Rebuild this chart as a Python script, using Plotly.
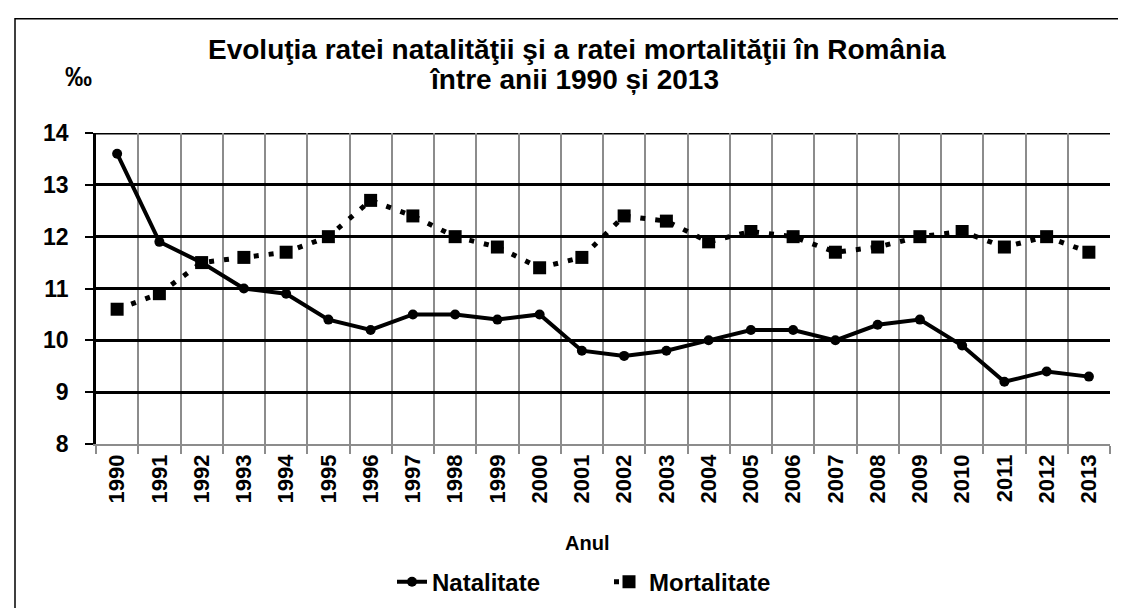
import plotly.graph_objects as go

years = [str(y) for y in range(1990, 2014)]
natalitate = [13.6, 11.9, 11.5, 11.0, 10.9, 10.4, 10.2, 10.5, 10.5, 10.4, 10.5, 9.8,
              9.7, 9.8, 10.0, 10.2, 10.2, 10.0, 10.3, 10.4, 9.9, 9.2, 9.4, 9.3]
mortalitate = [10.6, 10.9, 11.5, 11.6, 11.7, 12.0, 12.7, 12.4, 12.0, 11.8, 11.4, 11.6,
               12.4, 12.3, 11.9, 12.1, 12.0, 11.7, 11.8, 12.0, 12.1, 11.8, 12.0, 11.7]
y_ticks = [8, 9, 10, 11, 12, 13, 14]
title_line1 = "Evoluţia ratei natalităţii şi a ratei mortalităţii în România"
title_line2 = "între anii 1990 și 2013"
x_title = "Anul"
y_unit = "‰"

FONT = "Liberation Sans, Arial, sans-serif"
W, H = 1126, 608
L, R, T, B = 88, 24, 125, 170

fig = go.Figure()
fig.add_trace(go.Scatter(
    x=years, y=natalitate, name="Natalitate", mode="lines+markers",
    line=dict(color="black", width=4),
    marker=dict(symbol="circle", size=10, color="black"),
    legend="legend",
))
fig.add_trace(go.Scatter(
    x=years, y=mortalitate, name="Mortalitate", mode="lines+markers",
    line=dict(color="black", width=5, dash="5px,10px"),
    marker=dict(symbol="square", size=13, color="black"),
    legend="legend2",
))

pw = W - L - R
ph = H - T - B
def px_x(p):
    return (p - L) / pw
def px_y(p):
    return (H - B - p) / ph

legend_font = dict(size=24, family=FONT, weight="bold")

fig.update_layout(
    width=W, height=H,
    margin=dict(l=L, r=R, t=T, b=B),
    paper_bgcolor="white", plot_bgcolor="white",
    font=dict(family=FONT, color="black"),
    showlegend=True,
    legend=dict(orientation="h", x=px_x(384), xanchor="left", y=px_y(577), yanchor="middle",
                font=legend_font, bgcolor="rgba(0,0,0,0)"),
    legend2=dict(orientation="h", x=px_x(601), xanchor="left", y=px_y(577), yanchor="middle",
                 font=legend_font, bgcolor="rgba(0,0,0,0)"),
    xaxis=dict(
        type="category", tickson="boundaries", showgrid=True, gridcolor="#8c8c8c", gridwidth=1.5,
        ticks="outside", ticklen=8, tickcolor="#8c8c8c", tickwidth=1.5,
        tickangle=-90, tickfont=dict(size=22, family=FONT, weight="bold"),
        showline=True, linecolor="#8c8c8c", linewidth=1.5,
        range=[-0.5, 23.5],
    ),
    yaxis=dict(
        range=[8, 14], tickvals=y_ticks, showgrid=True, gridcolor="black", gridwidth=3,
        ticks="outside", ticklen=8, tickcolor="black", tickwidth=2,
        ticklabelstandoff=12,
        tickfont=dict(size=23, family=FONT, weight="bold"),
        showline=True, linecolor="black", linewidth=2.5, zeroline=False,
    ),
    annotations=[
        dict(text=title_line1, xref="paper", yref="paper", x=px_x(569), y=px_y(41),
             xanchor="center", yanchor="middle", showarrow=False,
             font=dict(size=28, family=FONT, weight="bold")),
        dict(text=title_line2, xref="paper", yref="paper", x=px_x(566), y=px_y(71),
             xanchor="center", yanchor="middle", showarrow=False,
             font=dict(size=28, family=FONT, weight="bold")),
        dict(text=y_unit, xref="paper", yref="paper", x=px_x(70), y=px_y(69),
             xanchor="center", yanchor="middle", showarrow=False,
             font=dict(size=27, family=FONT, weight="bold")),
        dict(text=x_title, xref="paper", yref="paper", x=px_x(579), y=px_y(538),
             xanchor="center", yanchor="middle", showarrow=False,
             font=dict(size=20, family=FONT, weight="bold")),
    ],
    shapes=[
        dict(type="rect", xref="paper", yref="paper",
             x0=px_x(7), x1=px_x(1135), y0=px_y(620), y1=px_y(10),
             line=dict(color="black", width=1.5), fillcolor="rgba(0,0,0,0)", layer="below"),
        dict(type="line", xref="paper", yref="y", x0=0, x1=1, y0=14, y1=14,
             line=dict(color="black", width=3), layer="below"),
    ],
)

fig.write_html("out.html")
